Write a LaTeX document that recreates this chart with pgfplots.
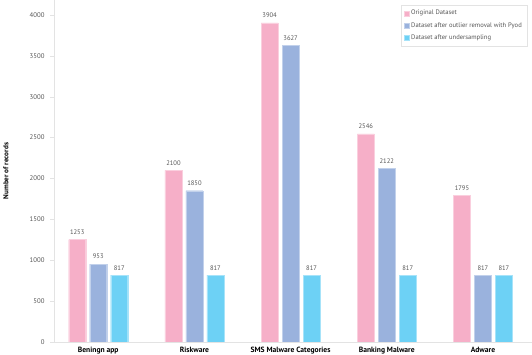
\documentclass[border=0pt]{standalone}
\usepackage{pgfplots}
\pgfplotsset{compat=1.18}
\usepackage{fontspec}
\setmainfont{PT Sans}
\definecolor{cpink}{HTML}{F6AFC8}
\definecolor{cblue}{HTML}{9AB2DD}
\definecolor{ccyan}{HTML}{6DD1F5}
\definecolor{axgray}{HTML}{E3E3E3}
\definecolor{txtgray}{HTML}{555555}
\begin{document}
\begin{tikzpicture}
\begin{axis}[
  scale only axis,
  width=478bp, height=342bp,
  ybar=4bp, bar width=17bp,
  xmin=-0.46, xmax=4.51,
  ymin=0, ymax=4183,
  xtick=data,
  xticklabels={Beningn app, Riskware, SMS Malware Categories, Banking Malware, Adware},
  x tick label style={font=\fontsize{7.6}{8}\selectfont\bfseries, text=black, yshift=2bp},
  ytick={0,500,...,4000},
  y tick label style={font=\fontsize{6.8}{7}\selectfont, text=txtgray, xshift=-2bp},
  /pgf/number format/assume math mode=true,
  /pgf/number format/1000 sep={},
  axis x line*=bottom, axis y line*=left,
  axis line style={axgray, line width=0.6pt},
  x axis line style={-}, y axis line style={-},
  xtick style={draw=none},
  ytick style={axgray},
  tick align=outside, major tick length=4bp,
  ylabel={Number of records},
  ylabel style={font=\fontsize{7.2}{8}\selectfont\bfseries, text=black,
    at={(axis description cs:0,0.5)}, anchor=north, inner sep=0pt, yshift=51bp},
  nodes near coords,
  nodes near coords style={font=\fontsize{6.6}{7}\selectfont, text=txtgray, yshift=1.5bp},
  legend style={at={(rel axis cs:0.9895,0.985)}, anchor=north east,
    draw=axgray, font=\fontsize{6.6}{7}\selectfont, text=txtgray,
    legend cell align=left, row sep=2bp, inner sep=3bp},
  legend image code/.code={\fill[#1] (0bp,-2.5bp) rectangle (5bp,2.5bp);},
]
\addplot[fill=cpink, draw=cpink!60!white] coordinates {(0,1253) (1,2100) (2,3904) (3,2546) (4,1795)};
\addplot[fill=cblue, draw=cblue!60!white] coordinates {(0,953) (1,1850) (2,3627) (3,2122) (4,817)};
\addplot[fill=ccyan, draw=ccyan!60!white] coordinates {(0,817) (1,817) (2,817) (3,817) (4,817)};
\legend{Original Dataset, Dataset after outlier removal with Pyod, Dataset after undersampling}
\end{axis}
\pgfresetboundingbox
\path ([xshift=-54bp,yshift=-13bp]current axis.south west) rectangle (current axis.north east);
\end{tikzpicture}
\end{document}
